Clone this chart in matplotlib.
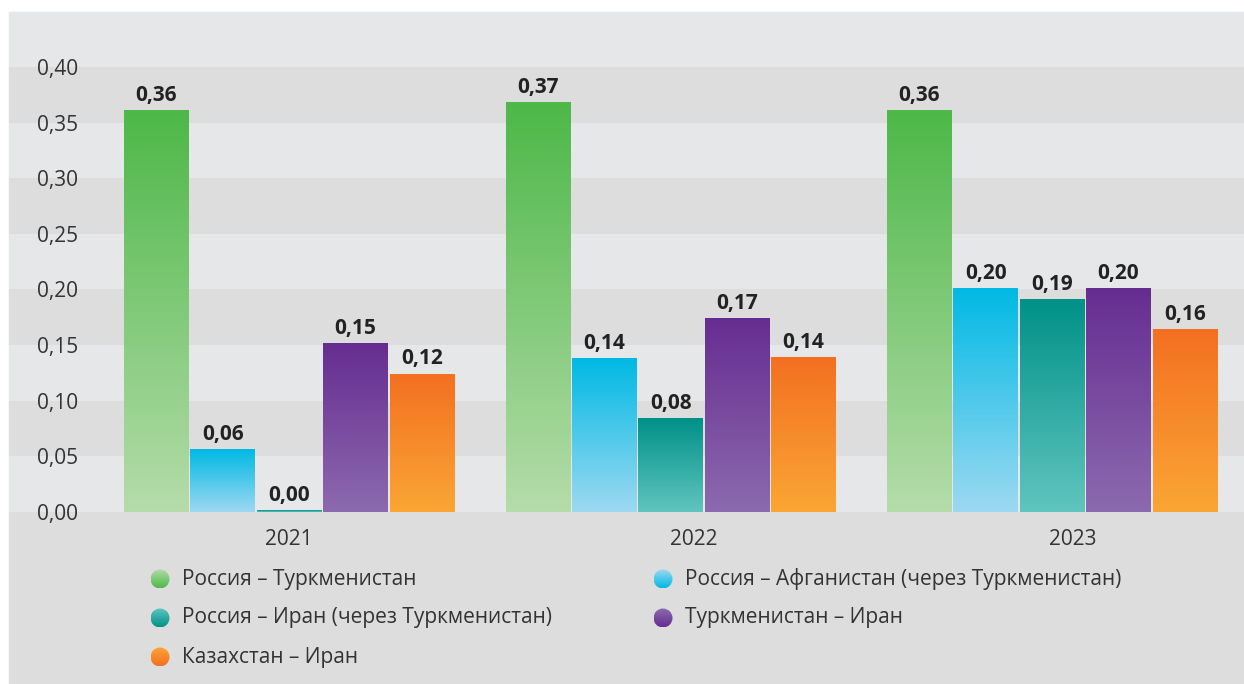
import numpy as np
import matplotlib.pyplot as plt
from matplotlib.colors import LinearSegmentedColormap
from matplotlib.patches import Rectangle, Circle

plt.rcParams['font.family'] = ['Open Sans', 'DejaVu Sans']

# данные
years = ['2021', '2022', '2023']
series = ['Россия – Туркменистан',
          'Россия – Афганистан (через Туркменистан)',
          'Россия – Иран (через Туркменистан)',
          'Туркменистан – Иран',
          'Казахстан – Иран']
rus_turkm = [0.361, 0.368, 0.361]
rus_afg = [0.056, 0.138, 0.201]
rus_iran = [0.001, 0.084, 0.191]
turkm_iran = [0.151, 0.174, 0.201]
kaz_iran = [0.124, 0.139, 0.164]
values = [rus_turkm, rus_afg, rus_iran, turkm_iran, kaz_iran]

# цвета градиентов (верх -> низ)
top_colors = ['#4db848', '#00b9e4', '#009188', '#662d91', '#f37021']
bottom_colors = ['#b5dcaa', '#9dd9f1', '#60c5be', '#8c6aae', '#faa634']

yticks = [0.0, 0.05, 0.10, 0.15, 0.20, 0.25, 0.30, 0.35, 0.40]
year_tick_pos = [0.0, 1.06, 2.055]

W, H = 1244, 684
light = '#e6e7e9'
dark = '#dddddd'
text_col = '#333333'

fig = plt.figure(figsize=(W / 100, H / 100), dpi=100, facecolor='white')

# фон панели и легенда (в пикселях)
bg = fig.add_axes([0, 0, 1, 1])
bg.axis('off')
bg.add_patch(Rectangle((9, 12), W - 9, H - 12, color=dark, zorder=0))

grad = np.linspace(0, 1, 256).reshape(-1, 1)

leg_x = [160, 663]
leg_y = [579, 618, 657]
r = 9.5
for i, name in enumerate(series):
    cx = leg_x[i % 2]
    cy = leg_y[i // 2]
    cmap = LinearSegmentedColormap.from_list('c%d' % i, [bottom_colors[i], top_colors[i]])
    circ = Circle((cx, cy), r, facecolor='none', edgecolor='none')
    bg.add_patch(circ)
    im = bg.imshow(grad, extent=[cx - r, cx + r, cy + r, cy - r], origin='upper',
                   cmap=cmap, aspect='auto', zorder=2)
    im.set_clip_path(circ)
    bg.text(cx + 22, cy, name, va='center', ha='left', fontsize=15, color=text_col)
bg.set_xlim(0, W)
bg.set_ylim(H, 0)

# основной график
ax = fig.add_axes([9 / W, (H - 512) / H, 1 - 9 / W, (512 - 12) / H])
ax.set_facecolor(light)
for lo in [0.05, 0.15, 0.25, 0.35]:
    ax.axhspan(lo, lo + 0.05, color=dark, zorder=0, lw=0)

w = 0.174
gap = 0.005
x = np.arange(len(years))
for i, vals in enumerate(values):
    xs = x + (i - 2) * w
    bars = ax.bar(xs, vals, w, color='none', linewidth=0, zorder=3)
    cmap = LinearSegmentedColormap.from_list('b%d' % i, [bottom_colors[i], top_colors[i]])
    for b, v in zip(bars, vals):
        x0 = b.get_x()
        ax.imshow(grad, extent=[x0 + gap / 2, x0 + b.get_width() - gap / 2, 0, b.get_height()],
                  origin='lower', cmap=cmap, aspect='auto', zorder=2)
        ax.annotate(f'{v:.2f}'.replace('.', ','), (x0 + b.get_width() / 2, v),
                    xytext=(0, 7), textcoords='offset points', ha='center', va='baseline',
                    fontsize=15, fontweight='bold', color='#222222')

ax.set_xlim(-0.734, 2.503)
ax.set_ylim(0, 0.4494)
ax.set_yticks(yticks)
ax.set_yticklabels([f'{t:.2f}'.replace('.', ',') for t in yticks])
ax.set_xticks(year_tick_pos)
ax.set_xticklabels(years)
ax.tick_params(axis='y', length=0, pad=-50, labelsize=15, colors=text_col)
ax.tick_params(axis='x', length=0, pad=12, labelsize=15, colors=text_col)
for s in ax.spines.values():
    s.set_visible(False)

plt.savefig('out.png', dpi=100, facecolor='white')
